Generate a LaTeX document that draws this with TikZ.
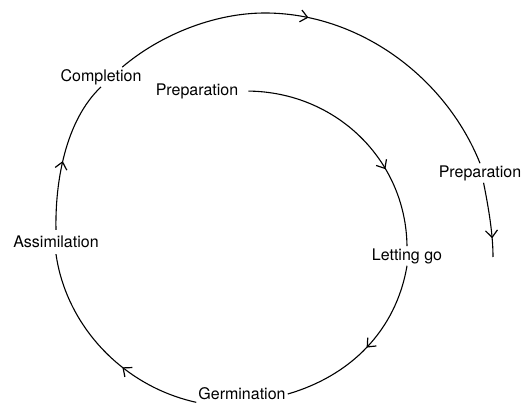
\documentclass[tikz,border=0pt]{standalone}
\usepackage{fontspec}
\setmainfont{TeX Gyre Heros}
\usetikzlibrary{arrows.meta,decorations.markings}
\begin{document}
\begin{tikzpicture}[
  x=1pt,y=-1pt,
  stage/.style={inner sep=2pt, font=\fontsize{16}{18}\selectfont},
  flow/.style={line width=1.1pt, postaction={decorate},
    decoration={markings, mark=at position #1 with {\arrow{Straight Barb[length=7pt,width=12pt,line width=1.2pt]}}}},
  flow/.default=0.5
]
\useasboundingbox (0,0) rectangle (525,406);

\node[stage] (prep)    at (197,91)  {Preparation};
\node[stage] (letgo)   at (407,256) {Letting go};
\node[stage] (germ)    at (242,394) {Germination};
\node[stage, inner ysep=6pt] (assim) at (56,242) {Assimilation};
\node[stage] (compl)   at (101,77)  {Completion};
\node[stage] (prepout) at (480,173) {Preparation};
\coordinate (tail) at (493,257);

% inner turn
\draw[flow=0.68, shorten <=8pt] (prep.east) .. controls (336,92) and (406,160) .. (letgo.north);
\draw[flow=0.5] (letgo.south) .. controls (396,331) and (350,376) .. (germ.east);
\draw[flow=0.38] (germ.south west) .. controls (122,386) and (66,325) .. (assim.south);
\draw[flow=0.45] (assim.north) .. controls (55,183) and (65,121) .. (compl.south);
% outer turn
\draw[flow=0.46] (compl.25) .. controls (160,35) and (214,13) .. (265,13)
  .. controls (358,13) and (445,76) .. (prepout.north);
\draw[flow=0.75] (prepout.-70) .. controls (489,210) and (493,235) .. (tail);
\end{tikzpicture}
\end{document}
